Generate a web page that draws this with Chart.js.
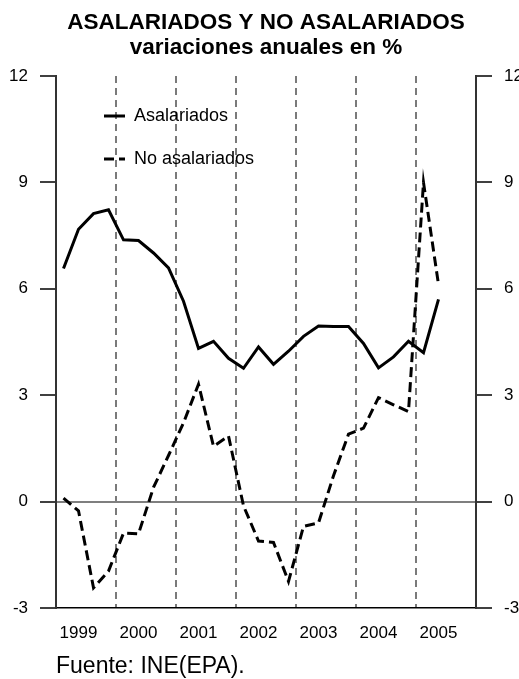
<!DOCTYPE html>
<html>
<head>
<meta charset="utf-8">
<script src="https://cdn.jsdelivr.net/npm/chart.js@4/dist/chart.umd.min.js"></script>
<style>
  html, body { margin: 0; padding: 0; background: #fff; }
  #wrap { width: 519px; height: 679px; }
</style>
</head>
<body>
<div id="wrap"><canvas id="empleoChart" width="519" height="679"></canvas></div>
<script>
/* Asalariados y no asalariados, variaciones anuales en %
   datos trimestrales 1999 I - 2005 II */
const years = ['1999', '2000', '2001', '2002', '2003', '2004', '2005'];
const quarters = ['I', 'II', 'III', 'IV'];

const asalariados = [
  6.57, 7.68, 8.12, 8.23,
  7.38, 7.36, 7.01, 6.59,
  5.65, 4.32, 4.52, 4.04,
  3.76, 4.36, 3.87, 4.24,
  4.66, 4.95, 4.94, 4.94,
  4.46, 3.77, 4.08, 4.52,
  4.20, 5.70, null, null
];

const noAsalariados = [
  0.10, -0.26, -2.43, -1.96,
  -0.89, -0.91, 0.40, 1.30,
  2.22, 3.31, 1.56, 1.85,
  -0.12, -1.11, -1.15, -2.25,
  -0.70, -0.60, 0.73, 1.90,
  2.07, 2.93, 2.73, 2.54,
  9.00, 6.12, null, null
];

const yTicks = [-3, 0, 3, 6, 9, 12];

// one category per quarter
const labels = [];
years.forEach(y => quarters.forEach(q => labels.push(y + ' ' + q)));

const FONT = "'Liberation Sans', Arial, sans-serif";

// move the legend inside the plot, top-left
const legendPlace = {
  id: 'legendPlace',
  afterLayout(chart) {
    const lg = chart.legend, a = chart.chartArea;
    if (!lg) return;
    lg.left = a.left + 23;
    lg.right = a.right;
    lg.top = a.top + 6;
    lg.bottom = a.bottom;
  }
};

const yAxis = (pos, width, pad) => ({
  type: 'linear',
  position: pos,
  min: -3,
  max: 12,
  afterBuildTicks: s => { s.ticks = yTicks.map(v => ({ value: v })); },
  afterFit: s => { s.width = width; },
  ticks: {
    color: '#000',
    padding: pad,
    font: { family: FONT, size: 17 }
  },
  grid: {
    drawOnChartArea: pos === 'left',
    color: c => (c.tick && c.tick.value === 0 ? '#7f7f7f' : 'rgba(0,0,0,0)'),
    lineWidth: 2,
    tickLength: 16,
    tickColor: '#000',
    tickWidth: 1.5
  },
  border: { color: '#333', width: 2 }
});

const ctx = document.getElementById('empleoChart').getContext('2d');
new Chart(ctx, {
  type: 'line',
  data: {
    labels: labels,
    datasets: [{
      label: 'Asalariados',
      data: asalariados,
      borderColor: '#000',
      backgroundColor: '#000',
      borderWidth: 3,
      pointRadius: 0,
      tension: 0,
      fill: false
    }, {
      label: 'No asalariados',
      data: noAsalariados,
      borderColor: '#000',
      backgroundColor: '#000',
      borderWidth: 3,
      borderDash: [10, 5],
      pointRadius: 0,
      tension: 0,
      fill: false
    }]
  },
  options: {
    responsive: false,
    animation: false,
    events: [],
    layout: { padding: { left: 0, right: 0, top: 0, bottom: 1 } },
    scales: {
      x: {
        type: 'category',
        offset: true,
        afterFit: s => { s.height = 47; },
        ticks: {
          autoSkip: false,
          maxRotation: 0,
          minRotation: 0,
          padding: 15,
          color: '#000',
          font: { family: FONT, size: 17 },
          callback: (v, i) => (i % 4 === 1 ? years[(i - 1) / 4] : '')
        },
        grid: {
          offset: true,
          drawTicks: false,
          lineWidth: 2,
          color: c => (c.index > 0 && c.index % 4 === 0 ? '#7a7a7a' : 'rgba(0,0,0,0)')
        },
        border: { color: '#000', width: 1.5, dash: [7, 5] }
      },
      y: yAxis('left', 56, 12),
      y2: yAxis('right', 43, 12)
    },
    plugins: {
      title: {
        display: true,
        fullSize: false,
        text: ['ASALARIADOS Y NO ASALARIADOS', 'variaciones anuales en %'],
        color: '#000',
        font: { family: FONT, size: 22.5, weight: 'bold', lineHeight: 25 / 22.5 },
        padding: { top: 10, bottom: 16 }
      },
      subtitle: {
        display: true,
        fullSize: false,
        position: 'bottom',
        align: 'start',
        text: 'Fuente: INE(EPA).',
        color: '#000',
        font: { family: FONT, size: 23, lineHeight: 1 },
        padding: 0
      },
      legend: {
        display: true,
        position: 'chartArea',
        align: 'start',
        labels: {
          usePointStyle: true,
          pointStyle: 'line',
          pointStyleWidth: 21,
          padding: 25,
          color: '#000',
          font: { family: FONT, size: 18 },
          // legend samples take the dataset line style
          generateLabels: chart => Chart.defaults.plugins.legend.labels.generateLabels(chart).map(item => {
            const ds = chart.data.datasets[item.datasetIndex];
            item.lineDash = ds.borderDash || [];
            item.lineWidth = ds.borderWidth;
            item.strokeStyle = ds.borderColor;
            item.pointStyle = 'line';
            return item;
          })
        }
      },
      tooltip: { enabled: false }
    }
  },
  plugins: [legendPlace]
});
</script>
</body>
</html>
